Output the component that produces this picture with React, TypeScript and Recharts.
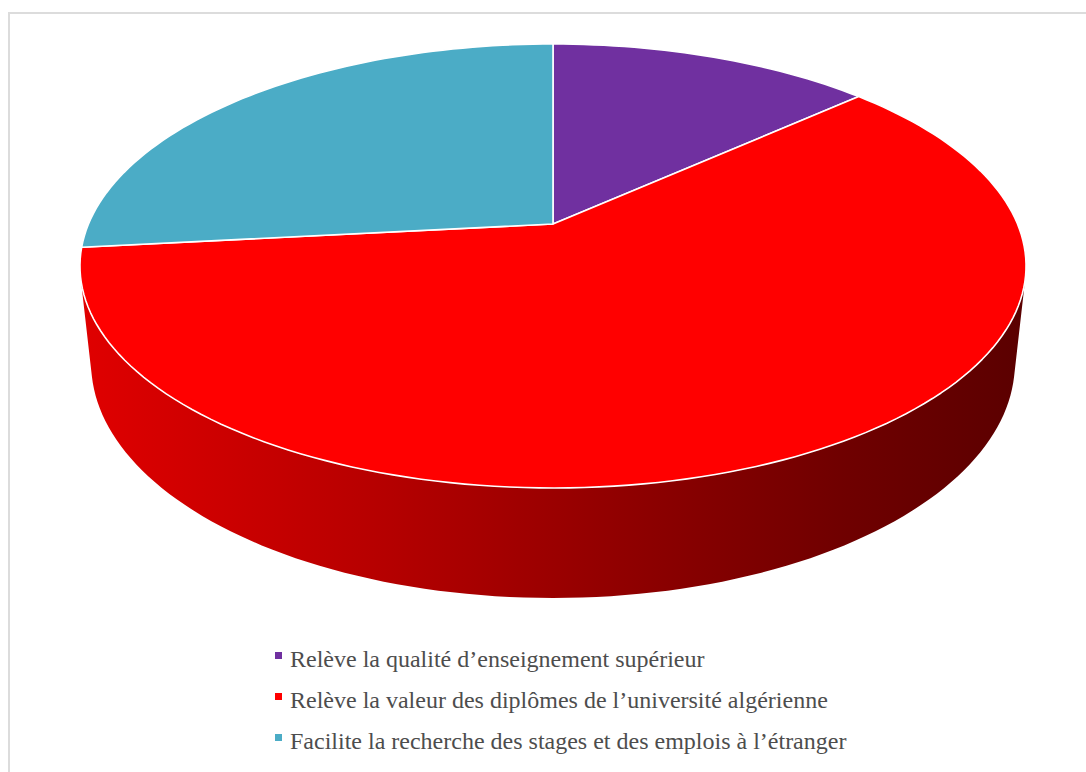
import React from 'react'
import { PieChart, Pie, Cell, Legend } from 'recharts'

const categories = [
  'Relève la qualité d’enseignement supérieur',
  'Relève la valeur des diplômes de l’université algérienne',
  'Facilite la recherche des stages et des emplois à l’étranger',
]
const shares = [13.3, 60, 26.7]
const colors = ['#7030A0', '#FF0000', '#4BACC6']

const data = categories.map((name, i) => ({ name, value: shares[i] }))

// perspective camera for the tilted disc (fitted to the reference)
const F = 2178
const D = 4.689
const C = 0.887
const S = 0.4608
const H = 0.2377

function proj(cx: number, cy: number, deg: number, z: number) {
  const a = (deg * Math.PI) / 180
  const x = Math.cos(a)
  const y = Math.sin(a)
  const depth = D + y * C - z * S
  return [cx + (F * x) / depth, cy - (F * (y * S + z * C)) / depth]
}

function arc(cx: number, cy: number, a0: number, a1: number, z: number) {
  const n = Math.max(2, Math.ceil(Math.abs(a1 - a0) / 1.5))
  const pts: number[][] = []
  for (let i = 0; i <= n; i++) pts.push(proj(cx, cy, a0 + ((a1 - a0) * i) / n, z))
  return pts
}

const toPath = (pts: number[][]) => pts.map((p, i) => `${i ? 'L' : 'M'}${p[0].toFixed(2)},${p[1].toFixed(2)}`).join('')

// front wall is visible where sin(phi) < -1/(D*C)
const visLimit = (Math.asin(1 / (D * C)) * 180) / Math.PI

function Slice3D(props: any) {
  const { cx, cy, startAngle, endAngle, fill } = props
  const lo = Math.min(startAngle, endAngle)
  const hi = Math.max(startAngle, endAngle)
  const walls: React.ReactNode[] = []
  for (const k of [-360, 0, 360]) {
    const w0 = Math.max(lo, -180 + visLimit + k)
    const w1 = Math.min(hi, -visLimit + k)
    if (w0 < w1) {
      const top = arc(cx, cy, w0, w1, 0)
      const bot = arc(cx, cy, w1, w0, -H)
      walls.push(<path key={k} d={toPath([...top, ...bot]) + 'Z'} fill="url(#wallShade)" stroke="none" />)
    }
  }
  const face = [[cx, cy], ...arc(cx, cy, startAngle, endAngle, 0)]
  return (
    <g>
      {walls}
      <path d={toPath(face) + 'Z'} fill={fill} stroke="#ffffff" strokeWidth={1.6} strokeLinejoin="round" />
    </g>
  )
}

function LegendBox(props: any) {
  const items = [...(props.payload || [])].sort(
    (a: any, b: any) => categories.indexOf(a.value) - categories.indexOf(b.value),
  )
  return (
    <div style={{ position: 'relative', width: 1086, height: 130 }}>
      {items.map((it: any, i: number) => (
        <div key={i}>
          <div style={{ position: 'absolute', left: 275, top: 12 + i * 41, width: 7, height: 7, background: it.color }} />
          <div
            style={{
              position: 'absolute',
              left: 290,
              top: 7 + i * 41,
              fontFamily: '"Liberation Serif", "Times New Roman", serif',
              fontSize: 24,
              lineHeight: '24px',
              color: '#4d4d4d',
              whiteSpace: 'nowrap',
            }}
          >
            {it.value}
          </div>
        </div>
      ))}
    </div>
  )
}

export default function App() {
  return (
    <div style={{ position: 'absolute', left: 0, top: 0, width: 1086, height: 772, background: '#fff' }}>
      <PieChart width={1086} height={772} margin={{ top: 0, right: 0, bottom: 0, left: 0 }}>
        <defs>
          <linearGradient id="wallShade" gradientUnits="userSpaceOnUse" x1={80} y1={0} x2={1030} y2={0}>
            <stop offset="0" stopColor="#e00000" />
            <stop offset="0.3" stopColor="#b80000" />
            <stop offset="0.55" stopColor="#930000" />
            <stop offset="0.8" stopColor="#700000" />
            <stop offset="1" stopColor="#5a0000" />
          </linearGradient>
        </defs>
        <rect x={9} y={13} width={1090} height={780} fill="none" stroke="#dcdcdc" strokeWidth={2} />
        <Pie
          data={data}
          dataKey="value"
          nameKey="name"
          cx={553}
          cy={224}
          outerRadius={200}
          startAngle={90}
          endAngle={-270}
          stroke="none"
          labelLine={false}
          isAnimationActive={false}
          shape={Slice3D}
        >
          {data.map((d, i) => (
            <Cell key={d.name} fill={colors[i]} />
          ))}
        </Pie>
        <Legend
          content={LegendBox}
          wrapperStyle={{ position: 'absolute', left: 0, top: 640, width: 1086, height: 130 }}
        />
      </PieChart>
    </div>
  )
}
